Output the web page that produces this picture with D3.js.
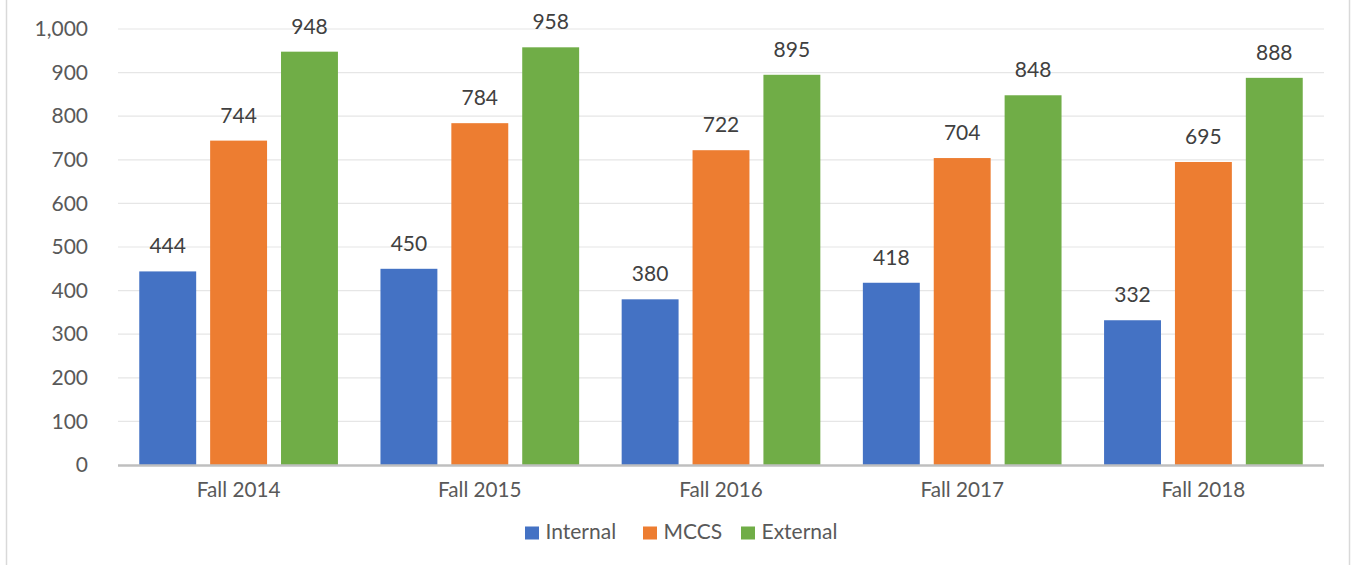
<!DOCTYPE html>
<html><head><meta charset="utf-8">
<script src="https://cdn.jsdelivr.net/npm/d3@7"></script>
<style>body{margin:0;background:#fff;} svg{display:block;}</style>
</head><body><svg id="c" width="1351" height="565"></svg>
<script>
const categories = ["Fall 2014","Fall 2015","Fall 2016","Fall 2017","Fall 2018"];
const seriesNames = ["Internal","MCCS","External"];
const internal = [444,450,380,418,332];
const mccs = [744,784,722,704,695];
const external = [948,958,895,848,888];
const yTicks = [0,100,200,300,400,500,600,700,800,900,1000];
const colors = ["#4472C4","#ED7D31","#70AD47"];

const seriesValues = [internal, mccs, external];
const svg = d3.select("#c");
const font = "Lato, 'Open Sans', sans-serif";
const plotL = 118, plotR = 1324, plotT = 29, plotB = 465;

// frame
svg.append("line").attr("x1",6.5).attr("x2",6.5).attr("y1",0).attr("y2",565).attr("stroke","#d9d9d9").attr("stroke-width",1.5);
svg.append("line").attr("x1",1349.5).attr("x2",1349.5).attr("y1",0).attr("y2",565).attr("stroke","#d9d9d9").attr("stroke-width",1.5);

const y = d3.scaleLinear().domain([0,1000]).range([plotB, plotT]);
const x0 = d3.scaleBand().domain(categories).range([plotL, plotR]).padding(0);
const x1 = d3.scaleBand().domain(seriesNames).range([0, x0.bandwidth()]).paddingInner(0.197).paddingOuter(0.3);

// gridlines
svg.append("g").selectAll("line").data(yTicks.filter(d=>d>0)).join("line")
  .attr("x1",plotL).attr("x2",plotR).attr("y1",d=>y(d)).attr("y2",d=>y(d))
  .attr("stroke","#e6e6e6").attr("stroke-width",1.2);

// y axis labels
const yAxis = d3.axisLeft(y).tickValues(yTicks).tickFormat(d3.format(",")).tickSize(0).tickPadding(0);
const gy = svg.append("g").attr("transform",`translate(88,0)`).call(yAxis);
gy.select(".domain").remove();
gy.selectAll("text").attr("fill","#595959").attr("font-size",21).attr("font-family",font);

// bars
const groups = svg.append("g").selectAll("g").data(categories).join("g")
  .attr("transform",d=>`translate(${x0(d)},0)`);
groups.selectAll("rect").data((c,i)=>seriesNames.map((s,j)=>({s, v: seriesValues[j][i], j})))
  .join("rect")
  .attr("x",d=>x1(d.s)).attr("width",x1.bandwidth())
  .attr("y",d=>y(d.v)).attr("height",d=>y(0)-y(d.v))
  .attr("fill",d=>colors[d.j]);
groups.selectAll("text").data((c,i)=>seriesNames.map((s,j)=>({s, v: seriesValues[j][i], j})))
  .join("text")
  .attr("x",d=>x1(d.s)+x1.bandwidth()/2).attr("y",d=>y(d.v)-18)
  .attr("text-anchor","middle").attr("fill","#404040").attr("font-size",21).attr("font-family",font)
  .text(d=>d.v);

// x axis
svg.append("line").attr("x1",plotL).attr("x2",plotR).attr("y1",plotB+0.5).attr("y2",plotB+0.5).attr("stroke","#bfbfbf").attr("stroke-width",2.5);
const xAxis = d3.axisBottom(x0).tickSize(0).tickPadding(0);
const gx = svg.append("g").attr("transform",`translate(0,${plotB+17})`).call(xAxis);
gx.select(".domain").remove();
gx.selectAll("text").attr("fill","#595959").attr("font-size",20.7).attr("font-family",font);

// legend
const legendX = [525, 643, 741];
const lg = svg.append("g").selectAll("g").data(seriesNames).join("g")
  .attr("transform",(d,i)=>`translate(${legendX[i]},526.5)`);
lg.append("rect").attr("width",14).attr("height",13).attr("fill",(d,i)=>colors[i]);
lg.append("text").attr("x",20.5).attr("y",12.5).attr("fill","#595959").attr("font-size",21).attr("font-family",font).text(d=>d);
</script></body></html>
